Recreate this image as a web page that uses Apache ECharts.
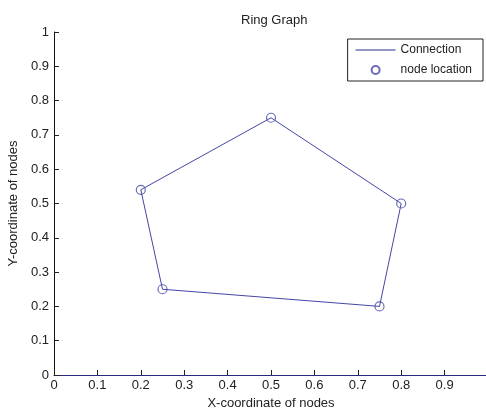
<!DOCTYPE html>
<html><head><meta charset="utf-8">
<script src="https://cdn.jsdelivr.net/npm/echarts@6/dist/echarts.min.js"></script>
<style>html,body{margin:0;padding:0;background:#fff}#c{width:486px;height:410px}</style>
</head><body><div id="c"></div>
<script>
var nodeX = [0.5, 0.8, 0.75, 0.25, 0.2];
var nodeY = [0.75, 0.5, 0.2, 0.25, 0.54];
var xTicks = [0, 0.1, 0.2, 0.3, 0.4, 0.5, 0.6, 0.7, 0.8, 0.9];
var yTicks = [0, 0.1, 0.2, 0.3, 0.4, 0.5, 0.6, 0.7, 0.8, 0.9, 1];

var nodes = nodeX.map(function (x, i) { return [x, nodeY[i]]; });
var ring = nodes.concat([nodes[0]]);
var font = 'Liberation Sans, Arial, sans-serif';
var blue = '#4646a6';

var chart = echarts.init(document.getElementById('c'));
chart.setOption({
  animation: false,
  backgroundColor: '#fff',
  title: { text: 'Ring Graph', left: 236, top: 9,
    textStyle: { fontFamily: font, fontSize: 13, fontWeight: 'normal', color: '#222' } },
  grid: { left: 54, right: -2, top: 32, bottom: 35, containLabel: false, outerBoundsMode: 'none' },
  legend: {
    right: 3, top: 39, orient: 'vertical', itemGap: 8, itemWidth: 40, itemHeight: 8,
    borderColor: '#222', borderWidth: 1, padding: [5, 11, 5, 8], backgroundColor: '#fff',
    textStyle: { fontFamily: font, fontSize: 12, color: '#222' },
    data: [
      { name: 'Connection', icon: 'path://M0,0L40,0L40,1L0,1Z', itemStyle: { color: '#2a2a90' } },
      { name: 'node location', icon: 'circle' }
    ]
  },
  xAxis: {
    type: 'value', min: 0, max: 1, interval: 0.1,
    name: 'X-coordinate of nodes', nameLocation: 'middle', nameGap: 21,
    nameTextStyle: { fontFamily: font, fontSize: 13, color: '#222' },
    axisLine: { onZero: false, lineStyle: { color: '#2a2a7a', width: 1 } },
    axisTick: { inside: true, length: 5, lineStyle: { color: '#222' } },
    axisLabel: { fontFamily: font, fontSize: 13, color: '#222', margin: 4,
      formatter: function (v) { var s = +v.toFixed(1); return xTicks.indexOf(s) >= 0 ? String(s) : ''; } },
    splitLine: { show: false }
  },
  yAxis: {
    type: 'value', min: 0, max: 1, interval: 0.1,
    name: 'Y-coordinate of nodes', nameLocation: 'middle', nameGap: 34,
    nameTextStyle: { fontFamily: font, fontSize: 13, color: '#222' },
    axisLine: { show: true, onZero: false, lineStyle: { color: '#111', width: 1 } },
    axisTick: { show: true, inside: true, length: 5, lineStyle: { color: '#222' } },
    axisLabel: { fontFamily: font, fontSize: 13, color: '#222', margin: 5,
      formatter: function (v) { var s = +v.toFixed(1); return yTicks.indexOf(s) >= 0 ? String(s) : ''; } },
    splitLine: { show: false }
  },
  series: [
    { name: 'Connection', type: 'line', data: ring, showSymbol: false, symbol: 'none',
      lineStyle: { color: blue, width: 1 }, itemStyle: { color: blue } },
    { name: 'node location', type: 'scatter', data: nodes, symbol: 'circle', symbolSize: 9,
      itemStyle: { color: 'rgba(255,255,255,0)', borderColor: blue, borderWidth: 1.2 } }
  ]
});
</script></body></html>
